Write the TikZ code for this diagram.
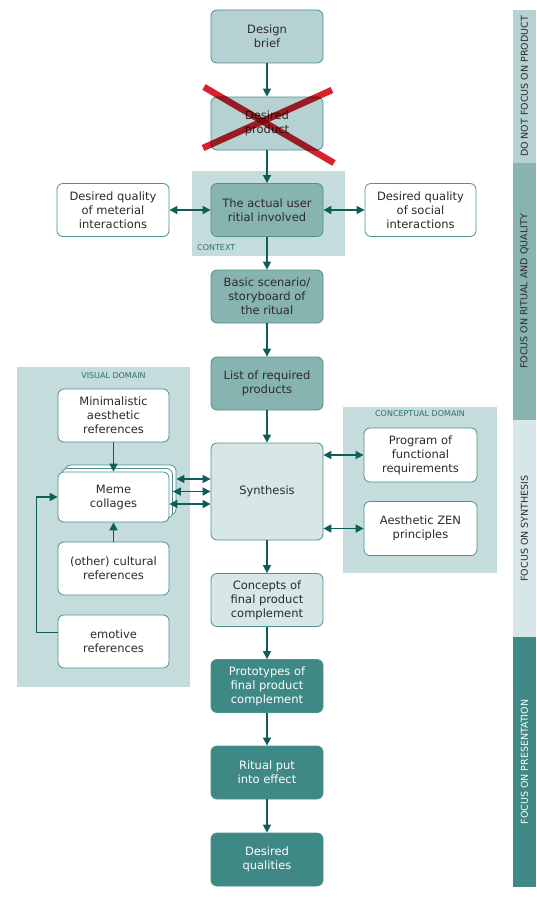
\documentclass[tikz,border=0pt]{standalone}
\usepackage{fontspec}
\setmainfont{DejaVu Sans}
\usetikzlibrary{arrows.meta,calc}
\definecolor{lightc}{HTML}{B5D1D1}
\definecolor{ctxc}{HTML}{C5DCDC}
\definecolor{midc}{HTML}{87B3B1}
\definecolor{sync}{HTML}{D7E6E6}
\definecolor{darkc}{HTML}{3E8985}
\definecolor{bordc}{HTML}{4B918C}
\definecolor{arrc}{HTML}{0E5D56}
\definecolor{txtc}{HTML}{2B2B2B}
\definecolor{lblc}{HTML}{2F6E6E}
\definecolor{redx}{HTML}{D8222B}
\tikzset{
  box/.style={draw=bordc, line width=0.8pt, rounded corners=6pt, align=center,
    minimum width=112pt, minimum height=53pt, inner sep=0pt, text=txtc,
    font=\fontsize{11.5}{14}\selectfont},
  lightbox/.style={box, fill=lightc},
  midbox/.style={box, fill=midc},
  synbox/.style={box, fill=sync},
  darkbox/.style={box, fill=darkc, text=white},
  whitebox/.style={box, fill=white},
  arr/.style={draw=arrc, line width=1.6pt, -{Triangle[length=8pt,width=8pt]}},
  dbl/.style={draw=arrc, line width=1.6pt, {Triangle[length=8pt,width=8pt]}-{Triangle[length=8pt,width=8pt]}},
  area/.style={fill=ctxc, draw=none},
  arealbl/.style={font=\fontsize{8}{9}\selectfont, text=lblc, inner sep=0pt},
  barseg/.style={draw=none, rotate=90, minimum height=23pt, inner sep=0pt, font=\fontsize{9.5}{10}\selectfont},
  crossline/.style={draw=redx, line width=6.5pt, blend mode=multiply}
}
\begin{document}
\begin{tikzpicture}[x=1pt,y=-1pt]
\useasboundingbox (0,0) rectangle (537,899);
% background areas
\fill[area] (192,171) rectangle (345,256);
\fill[area] (17,367) rectangle (190,687);
\fill[area] (343,407) rectangle (497,573);
\node[arealbl, anchor=west] (ctxlbl) at (197,248) {CONTEXT};
\node[arealbl] (vislbl) at (113.5,375.5) {VISUAL DOMAIN};
\node[arealbl] (conlbl) at (420,414) {CONCEPTUAL DOMAIN};
% right bar
\node[barseg, fill=lightc, text=txtc, minimum width=153pt] (bar1) at (524.5,86.5) {DO NOT FOCUS ON PRODUCT};
\node[barseg, fill=midc, text=txtc, minimum width=257pt] (bar2) at (524.5,291.5) {FOCUS ON RITUAL AND QUALITY};
\node[barseg, fill=sync, text=txtc, minimum width=217pt] (bar3) at (524.5,528.5) {FOCUS ON SYNTHESIS};
\node[barseg, fill=darkc, text=white, minimum width=250pt] (bar4) at (524.5,762) {FOCUS ON PRESENTATION};
% main column
\node[lightbox] (brief) at (267,36.5) {Design\\brief};
\node[lightbox] (product) at (267,123.5) {Desired\\product};
\node[midbox] (actual) at (267,210) {The actual user\\ritial involved};
\node[whitebox] (matl) at (113,210) {Desired quality\\of meterial\\interactions};
\node[whitebox, minimum width=111pt] (social) at (420.5,210) {Desired quality\\of social\\interactions};
\node[midbox] (scenario) at (267,296.5) {Basic scenario/\\storyboard of\\the ritual};
\node[midbox] (list) at (267,383.5) {List of required\\products};
\node[synbox, minimum height=97pt] (synth) at (267,491.5) {Synthesis};
\node[synbox] (concepts) at (267,600) {Concepts of\\final product\\complement};
\node[darkbox] (proto) at (267,686) {Prototypes of\\final product\\complement};
\node[darkbox] (ritual) at (267,772.5) {Ritual put\\into effect};
\node[darkbox] (quals) at (267,859.5) {Desired\\qualities};
% visual domain
\node[whitebox, minimum width=111pt] (minimal) at (113.5,415.5) {Minimalistic\\aesthetic\\references};
\node[whitebox, minimum width=111pt, minimum height=50pt] (meme3) at (120.5,490) {};
\node[whitebox, minimum width=111pt, minimum height=50pt] (meme2) at (117,493.5) {};
\node[whitebox, minimum width=111pt, minimum height=50pt] (meme) at (113.5,497) {Meme\\collages};
\node[whitebox, minimum width=111pt] (cultural) at (113.5,568.5) {(other) cultural\\references};
\node[whitebox, minimum width=111pt] (emotive) at (113.5,641.5) {emotive\\references};
% conceptual domain
\node[whitebox, minimum width=113pt, minimum height=54pt] (program) at (420.5,455) {Program of\\functional\\requirements};
\node[whitebox, minimum width=113pt, minimum height=54pt] (zen) at (420.5,528.5) {Aesthetic ZEN\\principles};
% red cross
\draw[crossline] (204,87) -- (334,163);
\draw[crossline] (203,148) -- (332,90);
% connectors
\draw[arr] (brief) -- (product);
\draw[arr] (product) -- (actual);
\draw[arr] (actual) -- (scenario);
\draw[arr] (scenario) -- (list);
\draw[arr] (list) -- (synth);
\draw[arr] (synth) -- (concepts);
\draw[arr] (concepts) -- (proto);
\draw[arr] (proto) -- (ritual);
\draw[arr] (ritual) -- (quals);
\draw[dbl] (matl) -- (actual);
\draw[dbl] (actual) -- (social);
\draw[dbl] (synth.east |- program.west) -- (program.west);
\draw[dbl] (synth.east |- zen.west) -- (zen.west);
\draw[arr] (minimal) -- (meme);
\draw[arr] (cultural) -- (meme);
\draw[arr] ([yshift=9pt]emotive.west) -- ++(-21,0) |- (meme.west);
\draw[dbl] (meme3.east |- {(0,479)}) -- (synth.west |- {(0,479)});
\draw[dbl] (meme2.east |- {(0,491.5)}) -- (synth.west |- {(0,491.5)});
\draw[dbl] (meme.east |- {(0,504)}) -- (synth.west |- {(0,504)});
\end{tikzpicture}
\end{document}
